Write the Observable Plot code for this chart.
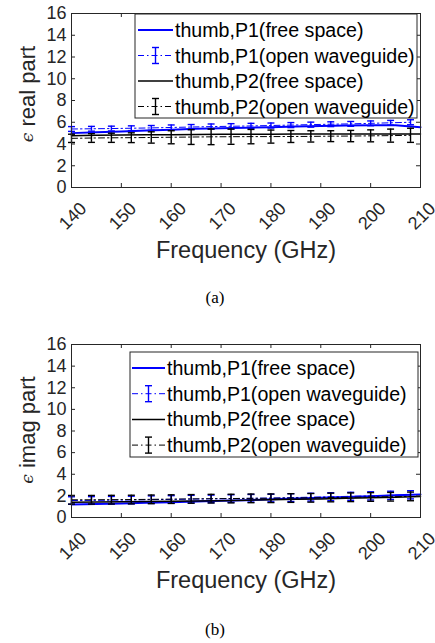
<!DOCTYPE html>
<html><head><meta charset="utf-8">
<script src="https://cdn.jsdelivr.net/npm/d3@7"></script>
<script src="https://cdn.jsdelivr.net/npm/@observablehq/plot@0.6"></script>
<style>
body{margin:0;background:#fff;}
#wrap{position:relative;width:435px;height:643px;overflow:hidden;}
.panel{position:absolute;left:0;}
.cap{position:absolute;left:0;width:430px;text-align:center;font-family:"Liberation Serif","Times New Roman",serif;font-size:17px;line-height:20px;color:#000;}
</style></head><body><div id="wrap"></div>
<script>
// ---- data ----
const freqFS = [140,145,150,155,160,165,170,175,180,185,190,195,200,205,210];
const freqOW = [140,144,148,152,156,160,164,168,172,176,180,184,188,192,196,200,204,208];
const xTicks = [140,150,160,170,180,190,200,210];
const yTicks = [0,2,4,6,8,10,12,14,16];
const legendLabels = ["thumb,P1(free space)","thumb,P1(open waveguide)","thumb,P2(free space)","thumb,P2(open waveguide)"];

// (a) real part
const realP1FS = [5.0,5.08,5.15,5.25,5.32,5.4,5.45,5.5,5.55,5.6,5.65,5.7,5.73,5.72,5.55];
const realP2FS = [4.77,4.8,4.82,4.84,4.86,4.88,4.89,4.9,4.9,4.91,4.91,4.92,4.92,4.92,4.92];
const realP1OW = [5.38,5.4,5.42,5.45,5.48,5.52,5.56,5.6,5.63,5.66,5.7,5.74,5.78,5.82,5.85,5.9,5.95,6.0];
const realP1Err = [0.22,0.22,0.22,0.22,0.22,0.23,0.23,0.24,0.24,0.24,0.23,0.23,0.23,0.22,0.22,0.22,0.22,0.23];
const realP2OW = [4.52,4.55,4.57,4.58,4.6,4.62,4.64,4.66,4.67,4.68,4.68,4.69,4.7,4.72,4.73,4.75,4.77,4.8];
const realP2Err = [0.38,0.4,0.42,0.45,0.52,0.6,0.68,0.72,0.7,0.66,0.6,0.55,0.52,0.5,0.52,0.55,0.6,0.65];

// (b) imag part
const imagP1FS = [1.2,1.25,1.3,1.36,1.42,1.48,1.55,1.6,1.68,1.75,1.82,1.9,1.97,2.05,2.12];
const imagP2FS = [1.42,1.44,1.46,1.48,1.5,1.53,1.56,1.6,1.64,1.68,1.72,1.77,1.82,1.88,1.94];
const imagP1OW = [1.57,1.58,1.6,1.62,1.65,1.67,1.7,1.72,1.75,1.78,1.8,1.84,1.88,1.92,1.96,2.0,2.05,2.1];
const imagP1Err = [0.35,0.35,0.35,0.35,0.35,0.35,0.35,0.35,0.35,0.35,0.35,0.36,0.36,0.37,0.37,0.38,0.38,0.38];
const imagP2OW = [1.64,1.64,1.65,1.66,1.68,1.7,1.72,1.74,1.75,1.77,1.78,1.8,1.82,1.85,1.87,1.9,1.92,1.95];
const imagP2Err = [0.4,0.4,0.4,0.4,0.4,0.4,0.4,0.4,0.4,0.4,0.4,0.4,0.4,0.4,0.4,0.4,0.4,0.4];

const BLUE = "#0000ff", BLACK = "#000000", AX = "#262626";
const SANS = "'Liberation Sans', Arial, Helvetica, sans-serif";
const DASHDOT = "6,3,1.5,3";

function errMarks(data, yKey, eKey, color) {
  const cap = 0.7;
  return [
    Plot.line(data, {x: "f", y: yKey, stroke: color, strokeWidth: 1, strokeDasharray: DASHDOT}),
    Plot.ruleX(data, {x: "f", y1: d => d[yKey] - d[eKey], y2: d => d[yKey] + d[eKey], stroke: color, strokeWidth: 1.4}),
    Plot.link(data, {x1: d => d.f - cap, x2: d => d.f + cap, y1: d => d[yKey] - d[eKey], y2: d => d[yKey] - d[eKey], stroke: color, strokeWidth: 1.4}),
    Plot.link(data, {x1: d => d.f - cap, x2: d => d.f + cap, y1: d => d[yKey] + d[eKey], y2: d => d[yKey] + d[eKey], stroke: color, strokeWidth: 1.4})
  ];
}

function makePanel(cfg) {
  const fs = freqFS.map((f, i) => ({f, p1: cfg.p1fs[i], p2: cfg.p2fs[i]}));
  const ow = freqOW.map((f, i) => ({f, p1: cfg.p1ow[i], e1: cfg.p1err[i], p2: cfg.p2ow[i], e2: cfg.p2err[i]}));
  const W = 435, H = 270, ML = 71, MR = 15, MT = cfg.mt, MB = 83;
  const fw = W - ML - MR, fh = H - MT - MB;
  const svg = Plot.plot({
    width: W, height: H, marginLeft: ML, marginRight: MR, marginTop: MT, marginBottom: MB,
    style: {fontFamily: SANS, background: "#fff", overflow: "visible"},
    x: {domain: [140, 210], axis: null},
    y: {domain: [0, 16], axis: null},
    marks: [
      Plot.line(fs, {x: "f", y: "p1", stroke: BLUE, strokeWidth: 2}),
      ...errMarks(ow, "p1", "e1", BLUE),
      Plot.line(fs, {x: "f", y: "p2", stroke: BLACK, strokeWidth: 1.5}),
      ...errMarks(ow, "p2", "e2", BLACK),
      Plot.frame({stroke: AX, strokeWidth: 1}),
      Plot.tickY(yTicks, {y: d => d, stroke: AX, insetRight: fw - 4}),
      Plot.tickY(yTicks, {y: d => d, stroke: AX, insetLeft: fw - 4}),
      Plot.tickX(xTicks, {x: d => d, stroke: AX, insetTop: fh - 4}),
      Plot.tickX(xTicks, {x: d => d, stroke: AX, insetBottom: fh - 4}),
      Plot.text(yTicks, {y: d => d, text: d => String(d), frameAnchor: "left", textAnchor: "end", dx: -5, fontSize: 18, fill: AX}),
      Plot.text(xTicks, {x: d => d, text: d => String(d), frameAnchor: "bottom", textAnchor: "end", lineAnchor: "middle", rotate: -45, dx: 12, dy: 18, fontSize: 18, fill: AX}),
      Plot.text([cfg.xlabel], {text: d => d, frameAnchor: "bottom", dy: 70, fontSize: 23.5, fill: AX})
    ]
  });
  const s = d3.select(svg);
  // y label
  const yl = s.append("text")
    .attr("transform", `translate(27,${cfg.ylabelY}) rotate(-90)`)
    .attr("text-anchor", "middle").attr("dominant-baseline", "central")
    .attr("fill", AX).style("font-family", SANS).style("font-size", "22px");
  yl.append("tspan").text("ϵ").style("font-family", "'DejaVu Serif','Liberation Serif',serif").style("font-style", "italic").style("font-size", "17px");
  yl.append("tspan").text(" " + cfg.ylabel);
  // legend
  const L = cfg.legend;
  const g = s.append("g").attr("text-anchor", "start");
  g.append("rect").attr("x", L.x).attr("y", L.y).attr("width", L.w).attr("height", L.h)
    .attr("fill", "#fff").attr("stroke", AX).attr("stroke-width", 1);
  const styles = [
    {c: BLUE, w: 2, dash: null, err: false},
    {c: BLUE, w: 1, dash: DASHDOT, err: true},
    {c: BLACK, w: 1.5, dash: null, err: false},
    {c: BLACK, w: 1, dash: DASHDOT, err: true}
  ];
  legendLabels.forEach((lab, i) => {
    const yy = L.y + L.first + i * L.step;
    const st = styles[i];
    g.append("line").attr("x1", L.lx1).attr("x2", L.lx2).attr("y1", yy).attr("y2", yy)
      .attr("stroke", st.c).attr("stroke-width", st.w).attr("stroke-dasharray", st.dash);
    if (st.err) {
      const cx = (L.lx1 + L.lx2) / 2;
      g.append("line").attr("x1", cx).attr("x2", cx).attr("y1", yy - 8).attr("y2", yy + 8).attr("stroke", st.c).attr("stroke-width", 1.4);
      g.append("line").attr("x1", cx - 3.5).attr("x2", cx + 3.5).attr("y1", yy - 8).attr("y2", yy - 8).attr("stroke", st.c).attr("stroke-width", 1.4);
      g.append("line").attr("x1", cx - 3.5).attr("x2", cx + 3.5).attr("y1", yy + 8).attr("y2", yy + 8).attr("stroke", st.c).attr("stroke-width", 1.4);
    }
    g.append("text").attr("x", L.tx).attr("y", yy).attr("dominant-baseline", "central").attr("text-anchor", "start")
      .attr("fill", "#000").style("font-family", SANS).style("font-size", "19.6px").text(lab);
  });
  return svg;
}

const wrap = document.getElementById("wrap");
function place(el, top) { const d = document.createElement("div"); d.className = "panel"; d.style.top = top + "px"; d.appendChild(el); wrap.appendChild(d); }
function caption(t, top) { const d = document.createElement("div"); d.className = "cap"; d.style.top = top + "px"; d.textContent = t; wrap.appendChild(d); }

place(makePanel({
  mt: 13, p1fs: realP1FS, p2fs: realP2FS, p1ow: realP1OW, p1err: realP1Err, p2ow: realP2OW, p2err: realP2Err,
  xlabel: "Frequency (GHz)", ylabel: "real part", ylabelY: 94,
  legend: {x: 135, y: 14, w: 282, h: 104, first: 16, step: 25.5, lx1: 138, lx2: 173, tx: 175}
}), 0);
caption("(a)", 288);
place(makePanel({
  mt: 14, p1fs: imagP1FS, p2fs: imagP2FS, p1ow: imagP1OW, p1err: imagP1Err, p2ow: imagP2OW, p2err: imagP2Err,
  xlabel: "Frequency (GHz)", ylabel: "imag part", ylabelY: 100,
  legend: {x: 130, y: 22, w: 288, h: 105, first: 16, step: 25.7, lx1: 132, lx2: 165, tx: 167}
}), 330);
caption("(b)", 620);
</script></body></html>
